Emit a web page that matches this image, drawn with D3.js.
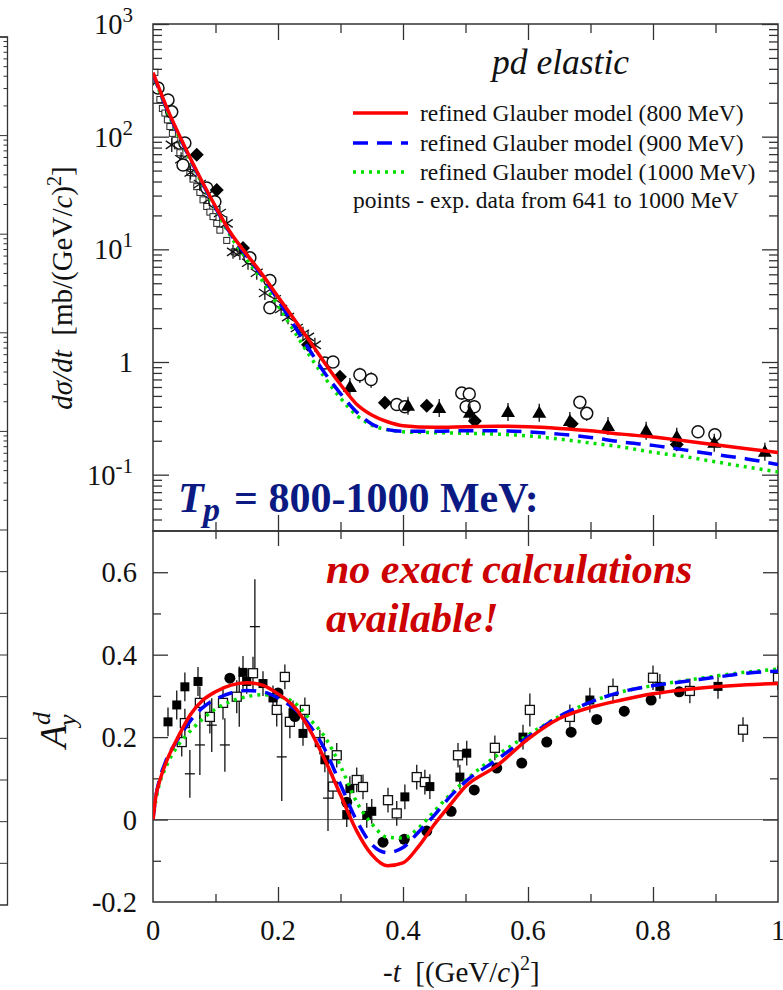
<!DOCTYPE html>
<html><head><meta charset="utf-8">
<script src="https://cdn.jsdelivr.net/npm/d3@7"></script>
<style>
body{margin:0;background:#fff}
svg{display:block}
text{font-family:"Liberation Serif","Times New Roman",serif;fill:#111}
</style>
</head><body>
<svg id="c" width="783" height="990"></svg>
<script>
// ---------- DATA ----------
// model curves, top panel: d(sigma)/dt in mb/(GeV/c)^2 vs -t
const tCurve = [0,0.025,0.05,0.075,0.1,0.125,0.15,0.175,0.2,0.225,0.25,0.275,0.3,0.325,0.35,0.375,0.4,0.45,0.5,0.55,0.6,0.65,0.7,0.75,0.8,0.85,0.9,0.95,1.0];
const dsdt800  = [371,166,83.2,43.6,24.0,13.8,9.02,5.96,3.80,2.43,1.55,0.977,0.631,0.427,0.339,0.295,0.272,0.263,0.266,0.269,0.266,0.257,0.245,0.229,0.216,0.200,0.184,0.170,0.157];
const dsdt900  = [363,162,81.3,42.7,23.4,13.5,8.71,5.75,3.55,2.14,1.29,0.794,0.525,0.363,0.282,0.251,0.243,0.243,0.245,0.245,0.240,0.229,0.214,0.195,0.182,0.166,0.151,0.138,0.123];
const dsdt1000 = [355,158,79.4,41.7,22.9,12.9,8.13,5.25,3.16,1.91,1.15,0.724,0.479,0.339,0.275,0.251,0.240,0.236,0.233,0.229,0.221,0.207,0.191,0.176,0.158,0.145,0.130,0.117,0.106];

// model curves, bottom panel: A_y^d vs -t
const tAy = [0,0.005,0.01,0.02,0.04,0.06,0.08,0.1,0.125,0.15,0.175,0.2,0.225,0.25,0.275,0.3,0.325,0.35,0.375,0.4,0.425,0.45,0.475,0.5,0.55,0.6,0.65,0.7,0.75,0.8,0.85,0.9,0.95,1.0];
const ay800  = [0,0.06,0.09,0.135,0.2,0.255,0.29,0.31,0.326,0.332,0.326,0.305,0.275,0.22,0.145,0.06,-0.025,-0.085,-0.112,-0.105,-0.065,-0.012,0.035,0.08,0.13,0.195,0.245,0.272,0.29,0.305,0.315,0.322,0.327,0.33];
const ay900  = [0,0.06,0.095,0.14,0.195,0.24,0.272,0.292,0.307,0.313,0.31,0.295,0.27,0.23,0.17,0.085,0.0,-0.06,-0.08,-0.068,-0.03,0.01,0.055,0.092,0.145,0.2,0.25,0.285,0.31,0.325,0.335,0.345,0.355,0.36];
const ay1000 = [0,0.05,0.085,0.125,0.18,0.215,0.245,0.268,0.287,0.298,0.303,0.298,0.285,0.245,0.2,0.13,0.045,-0.01,-0.043,-0.045,-0.02,0.02,0.06,0.095,0.155,0.205,0.25,0.285,0.31,0.325,0.337,0.348,0.358,0.365];

// experimental points, top panel [-t, dsigma/dt, error]
const xsOpenCircles = [[0.008,270,0],[0.024,212,0],[0.030,166,0],[0.051,88,0],[0.048,56,0],[0.086,35,0],[0.099,26.4,0],[0.155,8.4,0],[0.187,5.3,0],[0.187,3.03,0],[0.275,0.98,0],[0.288,1.0,0],[0.331,0.77,0.12],[0.349,0.70,0.11],[0.390,0.42,0.04],[0.403,0.40,0.04],[0.494,0.53,0.07],[0.506,0.52,0.07],[0.501,0.40,0.06],[0.514,0.40,0.06],[0.683,0.44,0.06],[0.694,0.35,0.05],[0.872,0.24,0],[0.899,0.226,0.03]];
const xsDiamonds = [[0.070,69],[0.102,33.7],[0.144,10.3],[0.248,1.42],[0.299,0.74],[0.371,0.435],[0.438,0.41],[0.515,0.30],[0.670,0.283],[0.838,0.185]];
const xsTriangles = [[0.315,0.60],[0.408,0.41],[0.458,0.39],[0.507,0.355],[0.568,0.36],[0.618,0.355],[0.667,0.30],[0.728,0.27],[0.789,0.245],[0.838,0.217],[0.898,0.192],[0.979,0.16]];
const xsAsterisks = [[0.030,84.5],[0.045,63],[0.060,48],[0.075,38],[0.090,28],[0.107,21],[0.118,17],[0.128,9.5],[0.139,9.3],[0.152,7.6],[0.166,6.2],[0.179,4.1],[0.195,3.6],[0.205,2.95],[0.216,2.5],[0.230,2.0],[0.240,1.78],[0.248,1.67],[0.259,1.42]];
const xsSquares = [[0.003,372],[0.006,275],[0.011,214],[0.015,178],[0.019,162],[0.023,141],[0.027,123],[0.031,107],[0.035,93],[0.039,83],[0.043,72],[0.048,63],[0.054,54],[0.059,48],[0.064,42],[0.070,36],[0.075,32],[0.080,27.5],[0.086,24],[0.091,21.4],[0.096,19.5],[0.102,17],[0.107,14.8],[0.118,12],[0.130,9.5]];

// experimental points, bottom panel [-t, A_y^d, error]
const ayFilledSquares = [[0.024,0.237,0.035],[0.038,0.278,0.035],[0.051,0.322,0.035],[0.072,0.335,0.035],[0.144,0.357,0.04],[0.150,0.335,0.03],[0.176,0.330,0.03],[0.192,0.295,0.03],[0.224,0.259,0.03],[0.240,0.209,0.03],[0.275,0.145,0.03],[0.310,0.012,0.03],[0.315,0.075,0.03],[0.342,0.010,0.03],[0.350,0.020,0.03],[0.403,0.055,0.03],[0.443,0.080,0.03],[0.491,0.103,0.03],[0.502,0.161,0.03],[0.592,0.200,0.03],[0.699,0.290,0.03],[0.811,0.323,0.03],[0.904,0.323,0.03]];
const ayOpenSquares = [[0.046,0.188,0.035],[0.051,0.234,0.035],[0.075,0.283,0.04],[0.091,0.249,0.04],[0.112,0.283,0.04],[0.134,0.298,0.04],[0.160,0.355,0.04],[0.198,0.266,0.04],[0.211,0.346,0.03],[0.219,0.237,0.04],[0.243,0.266,0.03],[0.267,0.188,0.03],[0.288,0.080,0.03],[0.294,0.156,0.03],[0.326,0.096,0.03],[0.336,0.079,0.03],[0.376,0.047,0.03],[0.390,0.015,0.03],[0.422,0.103,0.03],[0.435,0.091,0.03],[0.488,0.156,0.03],[0.547,0.174,0.03],[0.603,0.266,0.04],[0.667,0.249,0.03],[0.736,0.312,0.03],[0.800,0.344,0.03],[0.859,0.312,0.03],[0.944,0.218,0.03],[1.0,0.344,0.03]];
const ayFilledCircles = [[0.123,0.343],[0.200,0.307],[0.227,0.250],[0.310,0.042],[0.368,-0.055],[0.402,-0.048],[0.438,-0.028],[0.477,0.020],[0.514,0.072],[0.550,0.125],[0.590,0.137],[0.630,0.188],[0.669,0.212],[0.710,0.243],[0.754,0.263],[0.797,0.290],[0.842,0.310]];
const ayCrosses = [[0.059,0.111,0.058],[0.075,0.181,0.073],[0.094,0.229,0.065],[0.115,0.181,0.065],[0.138,0.298,0.073],[0.163,0.468,0.115],[0.206,0.152,0.107],[0.280,0.052,0.08]];

// tick labels
const xTickLabels = ["0","0.2","0.4","0.6","0.8","1"];
const xTickValues = [0,0.2,0.4,0.6,0.8,1];
const topYMajor = [0.1,1,10,100,1000];
const topYLabels = [["10","-1"],["1",""],["10","1"],["10","2"],["10","3"]];
const botYMajor = [-0.2,0,0.2,0.4,0.6];
const botYLabels = ["-0.2","0","0.2","0.4","0.6"];
const legendLabels = ["refined Glauber model (800 MeV)","refined Glauber model (900 MeV)","refined Glauber model (1000 MeV)"];

// ---------- DRAW ----------
const svg = d3.select("#c");
const L = 153, R = 778, T1 = 24, B1 = 531, B2 = 902;
const x = d3.scaleLinear().domain([0,1]).range([L,R]);
const yTop = d3.scaleLog().domain([Math.pow(10,-1.5),1000]).range([B1,T1]);
const yBot = d3.scaleLinear().domain([-0.2,0.7]).range([B2,B1]);
const RED="#ff0000", BLUE="#0000ff", GREEN="#00e000";

const defs = svg.append("defs");
defs.append("clipPath").attr("id","clipTop").append("rect").attr("x",L).attr("y",T1).attr("width",R-L).attr("height",B1-T1);
defs.append("clipPath").attr("id","clipBot").append("rect").attr("x",L).attr("y",B1).attr("width",R-L).attr("height",B2-B1);

// neighbouring panel edge (cropped at left)
const stubLog = d3.scaleLog().domain([1e-2,1e3]).range([530,37]);
const stubLin = d3.scaleLinear().domain([-0.2,0.7]).range([905,530]);
const stub = svg.append("g");
stub.append("path").attr("d","M0,37H7.5V905H0").attr("fill","none").attr("stroke","#333").attr("stroke-width",1.3);
stub.selectAll("line.sl").data(stubLog.ticks()).join("line")
  .attr("x1",7.5).attr("x2",d=>Math.abs(Math.log10(d)%1)<1e-6?0:3.5)
  .attr("y1",d=>stubLog(d)).attr("y2",d=>stubLog(d)).attr("stroke","#333").attr("stroke-width",1);
stub.selectAll("line.ll").data([-0.1,0,0.1,0.2,0.3,0.4,0.5,0.6]).join("line")
  .attr("x1",7.5).attr("x2",0).attr("y1",d=>stubLin(d)).attr("y2",d=>stubLin(d)).attr("stroke","#333").attr("stroke-width",1);

// zero line bottom
svg.append("line").attr("x1",L).attr("x2",R).attr("y1",yBot(0)).attr("y2",yBot(0)).attr("stroke","#666").attr("stroke-width",1);

// axis tick helper
function ticks(axisFn, scale, vals, size, tx, ty){
  const g = svg.append("g").attr("transform",`translate(${tx},${ty})`)
    .call(axisFn(scale).tickValues(vals).tickSize(size).tickFormat(""));
  g.select(".domain").remove();
  g.selectAll("line").attr("stroke","#333").attr("stroke-width",1.3);
}
const logAll = yTop.ticks();
const logMaj = logAll.filter(d=>Math.abs(Math.log10(d)-Math.round(Math.log10(d)))<1e-9);
const logMin = logAll.filter(d=>!logMaj.includes(d));
const xMaj = [0.2,0.4,0.6,0.8], xMin=[0.1,0.3,0.5,0.7,0.9];
const bMaj = [0,0.2,0.4,0.6], bMin=[-0.1,0.1,0.3,0.5];
ticks(d3.axisLeft, yTop, logMaj, -16, L, 0);
ticks(d3.axisLeft, yTop, logMin, -9, L, 0);
ticks(d3.axisRight, yTop, logMaj, -16, R, 0);
ticks(d3.axisRight, yTop, logMin, -9, R, 0);
ticks(d3.axisTop, x, xMaj, -16, 0, T1);
ticks(d3.axisTop, x, xMin, -9, 0, T1);
ticks(d3.axisBottom, x, xMaj, -16, 0, B1);
ticks(d3.axisBottom, x, xMin, -9, 0, B1);
ticks(d3.axisTop, x, xMaj, -15, 0, B1);
ticks(d3.axisTop, x, xMin, -8, 0, B1);
ticks(d3.axisBottom, x, xMaj, -15, 0, B2);
ticks(d3.axisBottom, x, xMin, -8, 0, B2);
ticks(d3.axisLeft, yBot, bMaj, -15, L, 0);
ticks(d3.axisLeft, yBot, bMin, -8, L, 0);
ticks(d3.axisRight, yBot, bMaj, -15, R, 0);
ticks(d3.axisRight, yBot, bMin, -8, R, 0);

// frames
svg.append("rect").attr("x",L).attr("y",T1).attr("width",R-L).attr("height",B1-T1).attr("fill","none").attr("stroke","#333").attr("stroke-width",1.5);
svg.append("rect").attr("x",L).attr("y",B1).attr("width",R-L).attr("height",B2-B1).attr("fill","none").attr("stroke","#333").attr("stroke-width",1.5);

// tick labels
const fs = 28.5;
topYMajor.forEach((v,i)=>{
  const t = svg.append("text").attr("x",133).attr("y",yTop(v)).attr("dy","0.35em").attr("text-anchor","end").style("font-size",fs+"px");
  const lab = topYLabels[i];
  t.append("tspan").text(lab[0]);
  if(lab[1]) t.append("tspan").attr("dy",-12).style("font-size","21px").text(lab[1]);
});
botYMajor.forEach((v,i)=>{
  svg.append("text").attr("x",137).attr("y",yBot(v)).attr("dy","0.35em").attr("text-anchor","end").style("font-size",fs+"px").text(botYLabels[i]);
});
xTickValues.forEach((v,i)=>{
  svg.append("text").attr("x",x(v)).attr("y",940).attr("text-anchor","middle").style("font-size",fs+"px").text(xTickLabels[i]);
});

// axis titles
const yt = svg.append("text").attr("transform","translate(72,288) rotate(-90)").attr("text-anchor","middle").style("font-size","29px");
yt.append("tspan").style("font-style","italic").text("dσ/dt");
yt.append("tspan").text("\u2002[mb/(GeV/");
yt.append("tspan").style("font-style","italic").text("c");
yt.append("tspan").text(")");
yt.append("tspan").attr("dy",-11).style("font-size","20px").text("2");
yt.append("tspan").attr("dy",11).text("]");

const ay = svg.append("text").attr("transform","translate(66,730) rotate(-90)").attr("text-anchor","middle").style("font-size","38px");
ay.append("tspan").style("font-style","italic").text("A");
ay.append("tspan").attr("dy",-16).style("font-size","26px").style("font-style","italic").text("d");
ay.append("tspan").attr("dx",-14).attr("dy",26).style("font-size","26px").style("font-style","italic").text("y");

const xt = svg.append("text").attr("x",383).attr("y",982).style("font-size","29px");
xt.append("tspan").style("font-style","italic").text("-t");
xt.append("tspan").text("\u2002[(GeV/");
xt.append("tspan").style("font-style","italic").text("c");
xt.append("tspan").text(")");
xt.append("tspan").attr("dy",-12).style("font-size","20px").text("2");
xt.append("tspan").attr("dy",12).text("]");

// ---------- TOP PANEL DATA ----------
const gTop = svg.append("g").attr("clip-path","url(#clipTop)");
gTop.selectAll("rect.sq").data(xsSquares).join("rect")
  .attr("x",d=>x(d[0])-3).attr("y",d=>yTop(d[1])-3).attr("width",6).attr("height",6)
  .attr("fill","white").attr("stroke","#222").attr("stroke-width",1);
gTop.selectAll("path.ast").data(xsAsterisks).join("path")
  .attr("transform",d=>`translate(${x(d[0])},${yTop(d[1])})`)
  .attr("d","M0,-7V7M-6,-4L6,4M-6,4L6,-4").attr("stroke","#111").attr("stroke-width",1.3).attr("fill","none");
gTop.selectAll("line.ce").data(xsOpenCircles.filter(d=>d[2]>0)).join("line")
  .attr("x1",d=>x(d[0])).attr("x2",d=>x(d[0])).attr("y1",d=>yTop(d[1]+d[2])).attr("y2",d=>yTop(d[1]-d[2]))
  .attr("stroke","#111").attr("stroke-width",1.3);
gTop.selectAll("circle.oc").data(xsOpenCircles).join("circle")
  .attr("cx",d=>x(d[0])).attr("cy",d=>yTop(d[1])).attr("r",6)
  .attr("fill","white").attr("stroke","#111").attr("stroke-width",1.5);
gTop.selectAll("path.dia").data(xsDiamonds).join("path")
  .attr("transform",d=>`translate(${x(d[0])},${yTop(d[1])})`)
  .attr("d","M0,-7L7,0L0,7L-7,0Z").attr("fill","#000");
gTop.selectAll("line.te").data(xsTriangles).join("line")
  .attr("x1",d=>x(d[0])).attr("x2",d=>x(d[0])).attr("y1",d=>yTop(d[1])-9).attr("y2",d=>yTop(d[1])+9)
  .attr("stroke","#111").attr("stroke-width",1.3);
gTop.selectAll("path.tri").data(xsTriangles).join("path")
  .attr("transform",d=>`translate(${x(d[0])},${yTop(d[1])})`)
  .attr("d","M0,-7L7,5L-7,5Z").attr("fill","#000");

const lineTop = d3.line().x((d,i)=>x(tCurve[i])).y(d=>yTop(d)).curve(d3.curveMonotoneX);
gTop.append("path").datum(dsdt1000).attr("d",lineTop).attr("fill","none").attr("stroke",GREEN).attr("stroke-width",3.5).attr("stroke-dasharray","3,5");
gTop.append("path").datum(dsdt900).attr("d",lineTop).attr("fill","none").attr("stroke",BLUE).attr("stroke-width",3.5).attr("stroke-dasharray","15,9");
gTop.append("path").datum(dsdt800).attr("d",lineTop).attr("fill","none").attr("stroke",RED).attr("stroke-width",3.5);

// ---------- BOTTOM PANEL DATA ----------
const gBot = svg.append("g").attr("clip-path","url(#clipBot)");
const errs = ayFilledSquares.concat(ayOpenSquares).concat(ayCrosses);
gBot.selectAll("line.e").data(errs).join("line")
  .attr("x1",d=>x(d[0])).attr("x2",d=>x(d[0])).attr("y1",d=>yBot(d[1]+d[2])).attr("y2",d=>yBot(d[1]-d[2]))
  .attr("stroke","#111").attr("stroke-width",1.3);
gBot.selectAll("line.cr").data(ayCrosses).join("line")
  .attr("x1",d=>x(d[0])-5).attr("x2",d=>x(d[0])+5).attr("y1",d=>yBot(d[1])).attr("y2",d=>yBot(d[1]))
  .attr("stroke","#111").attr("stroke-width",1.3);
gBot.selectAll("rect.os").data(ayOpenSquares).join("rect")
  .attr("x",d=>x(d[0])-4.5).attr("y",d=>yBot(d[1])-4.5).attr("width",9).attr("height",9)
  .attr("fill","white").attr("stroke","#111").attr("stroke-width",1.3);
gBot.selectAll("rect.fs").data(ayFilledSquares).join("rect")
  .attr("x",d=>x(d[0])-4.5).attr("y",d=>yBot(d[1])-4.5).attr("width",9).attr("height",9).attr("fill","#000");
gBot.selectAll("circle.fc").data(ayFilledCircles).join("circle")
  .attr("cx",d=>x(d[0])).attr("cy",d=>yBot(d[1])).attr("r",5.5).attr("fill","#000");

const lineBot = d3.line().x((d,i)=>x(tAy[i])).y(d=>yBot(d)).curve(d3.curveMonotoneX);
gBot.append("path").datum(ay1000).attr("d",lineBot).attr("fill","none").attr("stroke",GREEN).attr("stroke-width",3.5).attr("stroke-dasharray","3,5");
gBot.append("path").datum(ay900).attr("d",lineBot).attr("fill","none").attr("stroke",BLUE).attr("stroke-width",3.5).attr("stroke-dasharray","15,9");
gBot.append("path").datum(ay800).attr("d",lineBot).attr("fill","none").attr("stroke",RED).attr("stroke-width",3.5);

// ---------- LEGEND & ANNOTATIONS ----------
svg.append("text").attr("x",492).attr("y",74).style("font-size","35.5px").style("font-style","italic").text("pd elastic");
const legCols = [RED,BLUE,GREEN], legDash = [null,"15,9","3,5"], legY = [113,143,172];
legendLabels.forEach((s,i)=>{
  svg.append("line").attr("x1",353).attr("x2",408).attr("y1",legY[i]).attr("y2",legY[i])
    .attr("stroke",legCols[i]).attr("stroke-width",3.5).attr("stroke-dasharray",legDash[i]);
  svg.append("text").attr("x",420).attr("y",legY[i]+8).style("font-size","23.5px").text(s);
});
svg.append("text").attr("x",353).attr("y",208).style("font-size","23.5px").text("points - exp. data from 641 to 1000 MeV");

const NAVY = "#0b1a82";
svg.append("text").attr("x",178).attr("y",512).style("font-size","42px").style("font-weight","bold").style("font-style","italic").style("fill",NAVY).text("T");
svg.append("text").attr("x",203).attr("y",521).style("font-size","34px").style("font-weight","bold").style("font-style","italic").style("fill",NAVY).text("p");
svg.append("text").attr("x",234).attr("y",512).style("font-size","42px").style("font-weight","bold").style("fill",NAVY).text("= 800-1000 MeV:");

const DR = "#cc0000";
svg.append("text").attr("x",326).attr("y",583).style("font-size","42px").style("font-weight","bold").style("font-style","italic").style("fill",DR).text("no exact calculations");
svg.append("text").attr("x",326).attr("y",632).style("font-size","42px").style("font-weight","bold").style("font-style","italic").style("fill",DR).text("available!");
</script>
</body></html>
